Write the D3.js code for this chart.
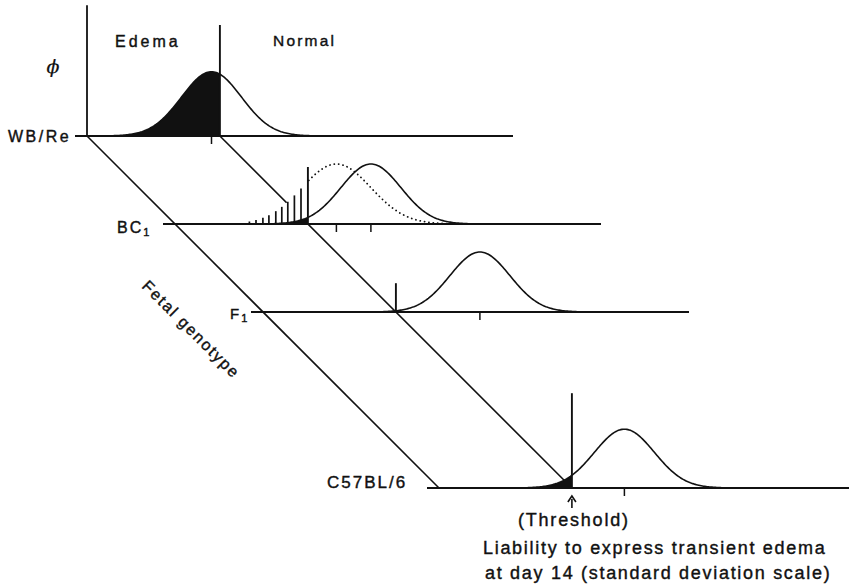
<!DOCTYPE html>
<html><head><meta charset="utf-8">
<script src="https://cdn.jsdelivr.net/npm/d3@7/dist/d3.min.js"></script>
<style>
html,body{margin:0;padding:0;background:#fff;}
svg text{font-family:"Liberation Sans",Arial,Helvetica,sans-serif;fill:#111;stroke:#111;stroke-width:0.4px;}
</style></head>
<body><svg id="c" width="850" height="584"></svg>
<script>
// ---- data ----
const genotypes = ["WB/Re", "BC1", "F1", "C57BL/6"];
const rowDepth = [0, 1, 2, 4];                 // position along the "Fetal genotype" axis
const means = [-0.28, 2.1, 2.8, 1.75];          // liability mean (SD units, threshold = 0)
const sds = [1.0, 1.0, 1.0, 1.0];
const peaks = [1.07, 1.0, 1.0, 0.98];           // phi at the mean
const thresholdMark = [1.85, 0.95, 0.48, 1.58]; // height of threshold marker (phi units)
const bc1Dotted = {mean: 0.95, sd: 1.15, peak: 1.0};
const bc1Hatch = [-1.95, -1.73, -1.5, -1.3, -1.07, -0.87, -0.67, -0.45, -0.23];
const liabilityDomain = [-4.83, 9.77];
const phiAxisTop = 2.18;
const threshold = 0;

// ---- scales ----
const svg = d3.select("#c");
const x = d3.scaleLinear().domain(liabilityDomain).range([75, 513]);
const depth = d3.scaleLinear().domain([0, 4]).range([0, 352]);
const phi = d3.scaleLinear().domain([0, 1]).range([0, 60]);
const baseY = 136;
const rx = (i, L) => x(L) + depth(rowDepth[i]);
const ry = (i) => baseY + depth(rowDepth[i]);
const dens = (L, m, s, p) => p * Math.exp(-((L - m) * (L - m)) / (2 * s * s));

function samples(lo, hi) {
  const a = Math.max(lo, liabilityDomain[0]), b = Math.min(hi, liabilityDomain[1]);
  const out = [];
  for (let L = a; L <= b + 1e-9; L += 0.04) out.push(L);
  return out;
}

// ---- diagonals (genotype axis) ----
const last = rowDepth.length - 1;
const axisL = -4.43;
svg.append("line").attr("x1", rx(0, axisL)).attr("y1", ry(0))
  .attr("x2", rx(last, axisL)).attr("y2", ry(last))
  .attr("stroke", "#111").attr("stroke-width", 1.6);
svg.append("line").attr("x1", rx(0, threshold)).attr("y1", ry(0))
  .attr("x2", rx(last, threshold)).attr("y2", ry(last))
  .attr("stroke", "#111").attr("stroke-width", 1.6);

// phi axis
svg.append("line").attr("x1", rx(0, axisL)).attr("x2", rx(0, axisL))
  .attr("y1", ry(0) - phi(phiAxisTop)).attr("y2", ry(0))
  .attr("stroke", "#111").attr("stroke-width", 1.8);

genotypes.forEach((g, i) => {
  const grp = svg.append("g");
  const y0 = ry(i);
  const m = means[i], s = sds[i], p = peaks[i];
  const mk = (arr, mm, ss, pp) => arr.map(L => ({L, v: dens(L, mm, ss, pp)}));
  const ar = d3.area().x(d => rx(i, d.L)).y0(y0).y1(d => y0 - phi(d.v));
  const ln = d3.line().x(d => rx(i, d.L)).y(d => y0 - phi(d.v));

  let dotted = null;
  if (g === "BC1") {
    const dm = bc1Dotted;
    dotted = mk(samples(dm.mean - 4 * dm.sd, dm.mean + 4 * dm.sd), dm.mean, dm.sd, dm.peak);
    grp.append("path").attr("d", ar(dotted)).attr("fill", "#fff");
  }

  const pts = mk(samples(m - 4 * s, m + 4 * s), m, s, p);
  grp.append("path").attr("d", ar(pts)).attr("fill", "#fff");
  const leftPts = pts.filter(d => d.L <= threshold);
  leftPts.push({L: threshold, v: dens(threshold, m, s, p)});
  if (leftPts.length > 1) grp.append("path").attr("d", ar(leftPts)).attr("fill", "#111");

  if (dotted) {
    const dm = bc1Dotted;
    grp.selectAll("line.h").data(bc1Hatch).join("line")
      .attr("x1", L => rx(i, L)).attr("x2", L => rx(i, L))
      .attr("y1", y0).attr("y2", L => y0 - phi(dens(L, dm.mean, dm.sd, dm.peak)))
      .attr("stroke", "#111").attr("stroke-width", 1.7);
    const right = dotted.filter(d => d.L >= threshold);
    grp.append("path").attr("d", ln(right)).attr("fill", "none").attr("stroke", "#111")
      .attr("stroke-width", 1.8).attr("stroke-dasharray", "0.1,4.3").attr("stroke-linecap", "round");
  }
  grp.append("path").attr("d", ln(pts)).attr("fill", "none").attr("stroke", "#111").attr("stroke-width", 1.6);

  // baseline
  grp.append("line").attr("x1", rx(i, liabilityDomain[0])).attr("x2", Math.min(849, rx(i, liabilityDomain[1])))
    .attr("y1", y0).attr("y2", y0).attr("stroke", "#111").attr("stroke-width", 1.9);

  // threshold marker
  grp.append("line").attr("x1", rx(i, threshold)).attr("x2", rx(i, threshold))
    .attr("y1", y0).attr("y2", y0 - phi(thresholdMark[i]))
    .attr("stroke", "#111").attr("stroke-width", 1.9);

  // mean ticks
  const tks = g === "BC1" ? [bc1Dotted.mean, m] : [m];
  grp.selectAll("line.t").data(tks).join("line")
    .attr("x1", L => rx(i, L)).attr("x2", L => rx(i, L))
    .attr("y1", y0).attr("y2", y0 + 8).attr("stroke", "#111").attr("stroke-width", 1.5);
});

// ---- labels ----
const T = (txt, X, Y, size, ls, anchor) => svg.append("text").attr("x", X).attr("y", Y)
  .attr("font-size", size).attr("letter-spacing", ls).attr("text-anchor", anchor || "start").text(txt);

T("WB/Re", 8, 142, 16, 2.5);
const bc = svg.append("text").attr("x", 117).attr("y", 233).attr("font-size", 16).attr("letter-spacing", 2);
bc.append("tspan").text("BC");
bc.append("tspan").attr("font-size", 11).attr("dy", 3).text("1");
const f1 = svg.append("text").attr("x", 230).attr("y", 319).attr("font-size", 15).attr("letter-spacing", 2);
f1.append("tspan").text("F");
f1.append("tspan").attr("font-size", 11).attr("dy", 3).text("1");
T("C57BL/6", 327, 488, 17, 2);

T("Edema", 115, 47, 16, 3);
T("Normal", 273, 46, 15.5, 2.2);
svg.append("text").attr("x", 53).attr("y", 73).attr("text-anchor", "middle")
  .attr("font-size", 19).attr("font-style", "italic").style("stroke-width", "0.2px")
  .style("font-family", "'DejaVu Serif',serif").text("\u03D5");

svg.append("text").attr("transform", "translate(141,287) rotate(45)")
  .attr("font-size", 16).attr("letter-spacing", 1.8).text("Fetal genotype");

// threshold arrow
const ax = rx(last, threshold);
svg.append("line").attr("x1", ax).attr("x2", ax).attr("y1", 499).attr("y2", 508)
  .attr("stroke", "#111").attr("stroke-width", 1.6);
svg.append("path").attr("d", `M${ax - 4},${502} L${ax},${496} L${ax + 4},${502}`)
  .attr("fill", "none").attr("stroke", "#111").attr("stroke-width", 1.6);
T("(Threshold)", ax + 2, 526, 18, 1.8, "middle");
T("Liability to express transient edema", 483, 554, 18, 1.7);
T("at day 14 (standard deviation scale)", 485, 579, 18, 1.7);
</script></body></html>
